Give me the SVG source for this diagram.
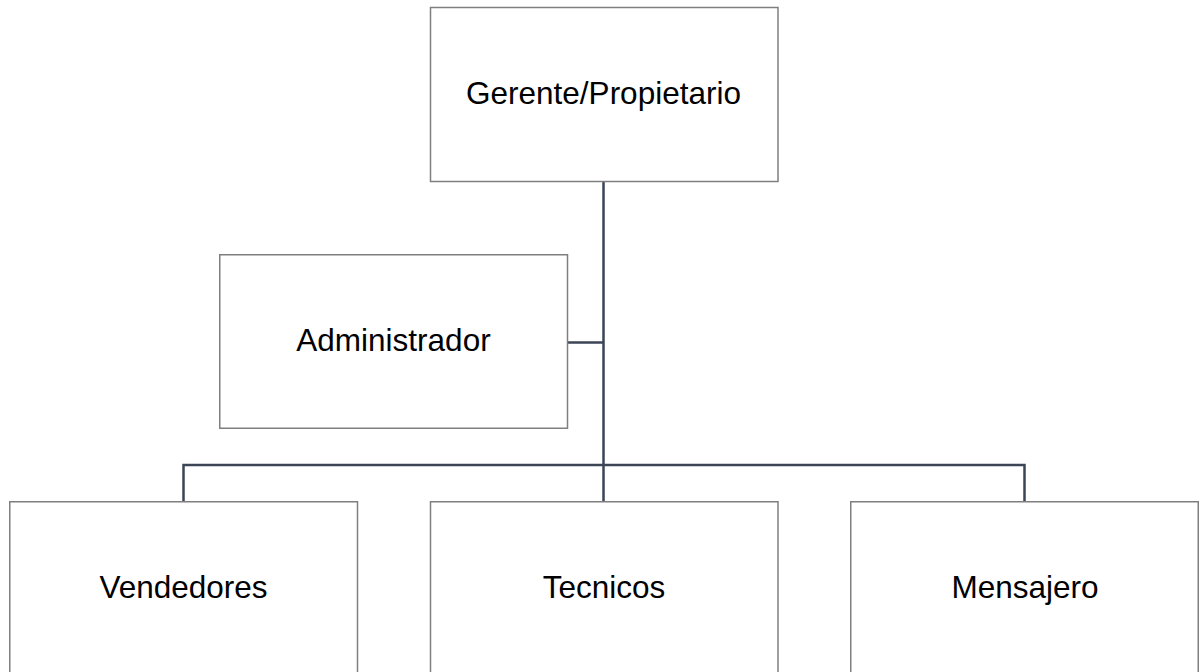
<svg xmlns="http://www.w3.org/2000/svg" width="1201" height="672" viewBox="0 0 1201 672">
<style>
.box{fill:#ffffff;stroke:#7f7f7f;stroke-width:1.5}
.lbl{font-family:"Liberation Sans",Arial,sans-serif;font-size:31.5px;fill:#000000;text-anchor:middle}
.conn{fill:none;stroke:#3b4556;stroke-width:2.5}
</style>
<rect width="1201" height="672" fill="#ffffff"/>
<g id="connectors">
<line class="conn" x1="603.5" y1="181.5" x2="603.5" y2="465"/>
<line class="conn" x1="567.5" y1="342.5" x2="603.5" y2="342.5"/>
<polyline class="conn" points="183.5,501.5 183.5,465 1024.5,465 1024.5,501.5"/>
<line class="conn" x1="603.5" y1="465" x2="603.5" y2="501.5"/>
</g>
<g id="gerente">
<rect class="box" x="430.5" y="7.5" width="347.5" height="174"/>
<text class="lbl" x="603.5" y="103.5">Gerente/Propietario</text>
</g>
<g id="administrador">
<rect class="box" x="219.75" y="254.75" width="347.75" height="173.5"/>
<text class="lbl" x="393.5" y="351">Administrador</text>
</g>
<g id="vendedores">
<rect class="box" x="9.75" y="501.75" width="347.75" height="174"/>
<text class="lbl" x="183.5" y="598">Vendedores</text>
</g>
<g id="tecnicos">
<rect class="box" x="430.5" y="501.75" width="347.5" height="174"/>
<text class="lbl" x="604" y="598">Tecnicos</text>
</g>
<g id="mensajero">
<rect class="box" x="850.75" y="501.75" width="347.5" height="174"/>
<text class="lbl" x="1025" y="598">Mensajero</text>
</g>
</svg>
